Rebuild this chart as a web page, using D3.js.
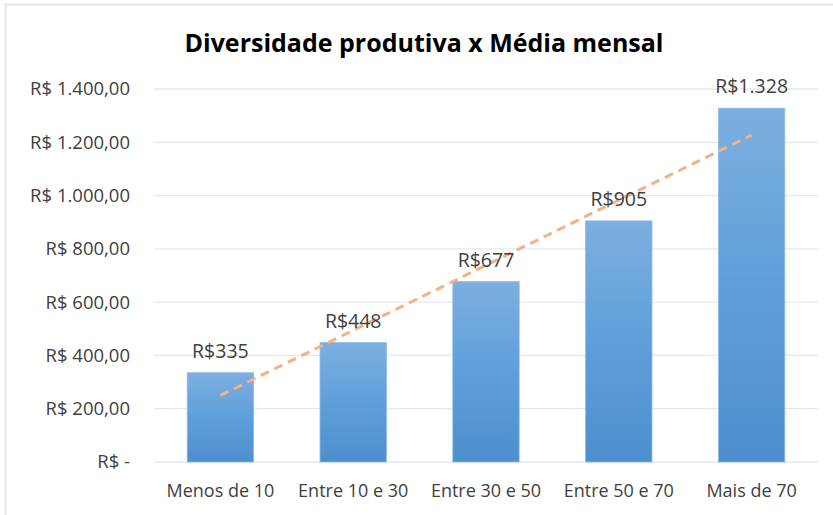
<!DOCTYPE html>
<html>
<head>
<meta charset="utf-8">
<script src="https://cdn.jsdelivr.net/npm/d3@7"></script>
<style>
  body { margin: 0; background: #fff; }
  text { font-family: "Open Sans", "Noto Sans", sans-serif; fill: #404040; }
</style>
</head>
<body>
<div class="container"></div>
<script>
const w = 833
const h = 515

const categories = ["Menos de 10", "Entre 10 e 30", "Entre 30 e 50", "Entre 50 e 70", "Mais de 70"]
const values = [335, 448, 677, 905, 1328]
const valueLabels = ["R$335", "R$448", "R$677", "R$905", "R$1.328"]
const yTicks = [0, 200, 400, 600, 800, 1000, 1200, 1400]
const yTickLabels = ["R$ -", "R$ 200,00", "R$ 400,00", "R$ 600,00", "R$ 800,00", "R$ 1.000,00", "R$ 1.200,00", "R$ 1.400,00"]
// linear trendline ends (first and last category)
const trendValues = [250, 1227]

const margin = { left: 154, right: 15, top: 89, bottom: 53 }

const svg = d3.select(".container")
              .append("svg")
              .attr("width", w)
              .attr("height", h)

// chart frame
svg.append("rect")
    .attr("x", 5.5)
    .attr("y", 4.5)
    .attr("width", w + 20)
    .attr("height", h + 20)
    .attr("fill", "#fff")
    .attr("stroke", "#e3e7ec")
    .attr("stroke-width", 2)

const defs = svg.append("defs")
const grad = defs.append("linearGradient")
                 .attr("id", "barGrad")
                 .attr("x1", 0).attr("y1", 0)
                 .attr("x2", 0).attr("y2", 1)
grad.append("stop").attr("offset", "0%").attr("stop-color", "#7dafdf")
grad.append("stop").attr("offset", "50%").attr("stop-color", "#5e9fdb")
grad.append("stop").attr("offset", "100%").attr("stop-color", "#4d8ecd")

const xScale = d3.scaleBand()
                 .domain(categories)
                 .range([margin.left, w - margin.right])
                 .paddingInner(0.5)
                 .paddingOuter(0.25)

const yScale = d3.scaleLinear()
                 .domain([0, 1400])
                 .range([h - margin.bottom, margin.top])

// gridlines
svg.append("g")
    .selectAll("line")
    .data(yTicks)
    .enter()
    .append("line")
      .attr("x1", margin.left)
      .attr("x2", w - margin.right)
      .attr("y1", d => yScale(d))
      .attr("y2", d => yScale(d))
      .attr("stroke", "#e4e8ee")
      .attr("stroke-width", 1.3)

const yAxis = d3.axisLeft(yScale)
                .tickValues(yTicks)
                .tickFormat((d, i) => yTickLabels[i])
                .tickSize(0)
                .tickPadding(24)

svg.append("g")
    .attr("id", "y-axis")
    .attr("transform", `translate(${margin.left}, 0)`)
    .call(yAxis)
    .call(g => g.select(".domain").remove())
    .selectAll("text")
      .style("font-size", "18.5px")
      .attr("fill", "#404040")

const xAxis = d3.axisBottom(xScale)
                .tickSize(0)
                .tickPadding(22)

svg.append("g")
    .attr("id", "x-axis")
    .attr("transform", `translate(0, ${h - margin.bottom})`)
    .call(xAxis)
    .call(g => g.select(".domain").remove())
    .selectAll("text")
      .style("font-size", "18px")
      .attr("fill", "#404040")

svg.selectAll(".bar")
    .data(values)
    .enter()
    .append("rect")
      .attr("class", "bar")
      .attr("x", (d, i) => xScale(categories[i]))
      .attr("y", d => yScale(d))
      .attr("width", xScale.bandwidth())
      .attr("height", d => yScale(0) - yScale(d))
      .attr("fill", "url(#barGrad)")
      .attr("stroke", "#8ebde8")
      .attr("stroke-width", 0.8)

// trendline
const trendCats = [categories[0], categories[categories.length - 1]]
svg.append("line")
    .attr("x1", xScale(trendCats[0]) + xScale.bandwidth() / 2)
    .attr("x2", xScale(trendCats[1]) + xScale.bandwidth() / 2)
    .attr("y1", yScale(trendValues[0]))
    .attr("y2", yScale(trendValues[1]))
    .attr("stroke", "#f4b183")
    .attr("stroke-width", 3)
    .attr("stroke-dasharray", "9,6")

svg.selectAll(".label")
    .data(values)
    .enter()
    .append("text")
      .attr("class", "label")
      .attr("x", (d, i) => xScale(categories[i]) + xScale.bandwidth() / 2)
      .attr("y", d => yScale(d) - 15)
      .attr("text-anchor", "middle")
      .style("font-size", "19.5px")
      .text((d, i) => valueLabels[i])

svg.append("text")
    .attr("x", 424)
    .attr("y", 52)
    .attr("text-anchor", "middle")
    .style("font-size", "25px")
    .style("font-weight", "bold")
    .style("fill", "#000")
    .text("Diversidade produtiva x Média mensal")
</script>
</body>
</html>
